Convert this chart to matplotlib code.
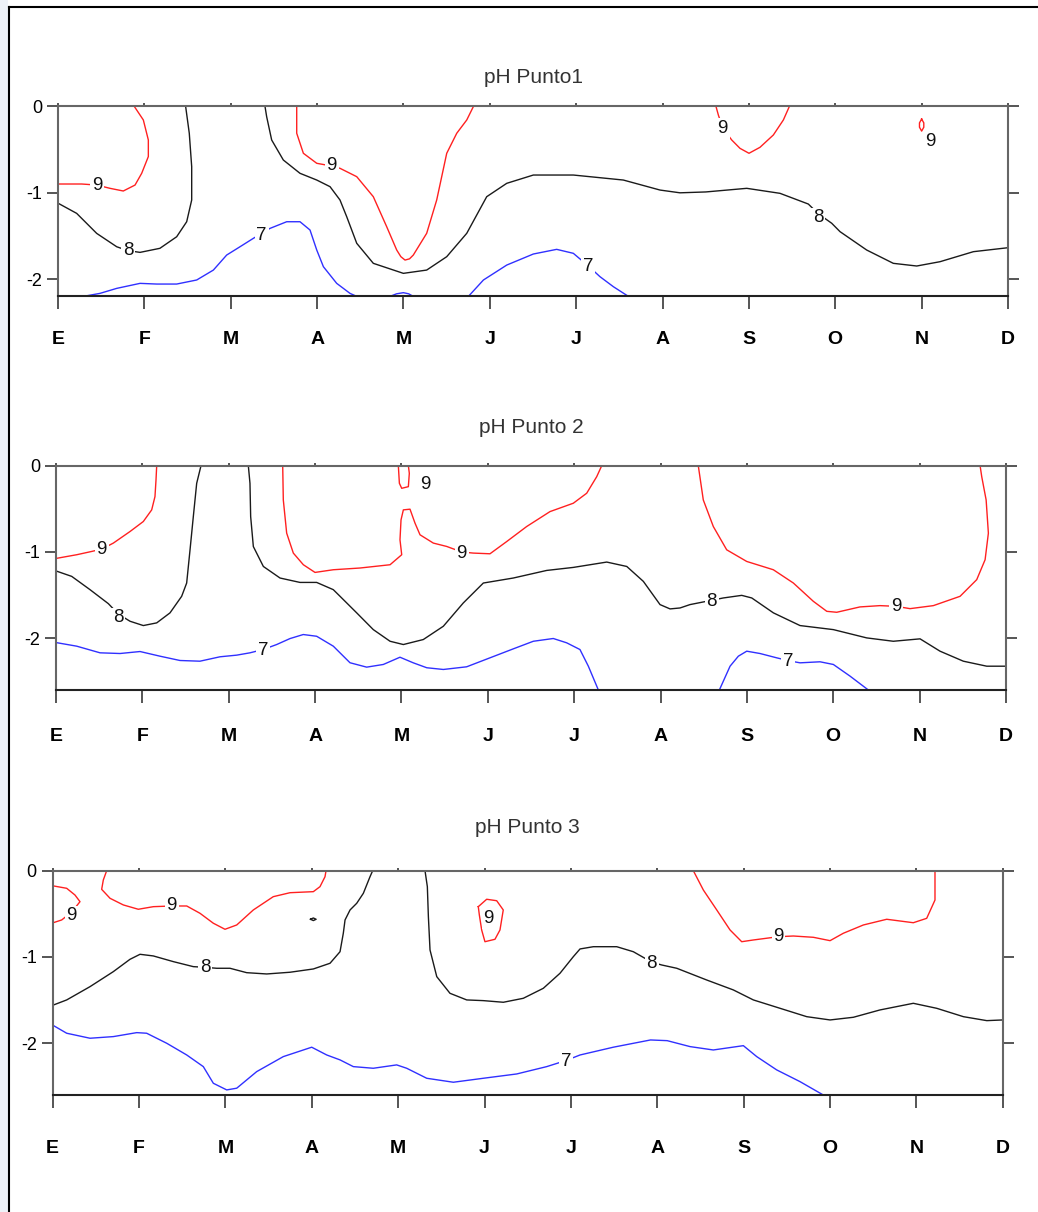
import matplotlib
matplotlib.use("Agg")
import matplotlib.pyplot as plt
from matplotlib.lines import Line2D
from matplotlib.patches import Rectangle

plt.rcParams['font.family'] = ['Liberation Sans', 'DejaVu Sans']

months = ["E", "F", "M", "A", "M", "J", "J", "A", "S", "O", "N", "D"]
titles = ["pH Punto1", "pH Punto 2", "pH Punto 3"]
depth_min = [-2.2, -2.6, -2.6]
depth_ticks = [0, -1, -2]

# isolineas (mes, profundidad)
# ---- Punto 1
p1_red_a = [(0.0, -0.898), (0.274, -0.898), (0.45, -0.91), (0.602, -0.948), (0.756, -0.979),
            (0.892, -0.91), (0.969, -0.774), (1.046, -0.58), (1.046, -0.388), (0.988, -0.156), (0.884, 0.0)]
p1_black_a = [(0.0, -1.12), (0.216, -1.238), (0.448, -1.47), (0.68, -1.625), (0.81, -1.67), (0.95, -1.69),
              (1.18, -1.643), (1.374, -1.509), (1.49, -1.335), (1.548, -1.083), (1.548, -0.697),
              (1.52, -0.31), (1.478, 0.0)]
p1_black_b = [(2.397, 0.0), (2.416, -0.118), (2.474, -0.388), (2.609, -0.62), (2.802, -0.774), (2.996, -0.852),
              (3.15, -0.929), (3.265, -1.083), (3.343, -1.277), (3.459, -1.585), (3.651, -1.817),
              (3.999, -1.933), (4.269, -1.895), (4.501, -1.74), (4.733, -1.469), (4.964, -1.045),
              (5.196, -0.89), (5.504, -0.794), (5.967, -0.794), (6.546, -0.852), (6.971, -0.968),
              (7.202, -1.0), (7.5, -0.99), (7.975, -0.948), (8.36, -1.006), (8.688, -1.13), (8.80, -1.24),
              (8.959, -1.353), (9.055, -1.45), (9.364, -1.663), (9.672, -1.817), (9.943, -1.848),
              (10.213, -1.798), (10.599, -1.682), (11.0, -1.636)]
p1_red_b = [(2.764, 0.0), (2.764, -0.31), (2.841, -0.542), (2.996, -0.658), (3.17, -0.69), (3.265, -0.716),
            (3.459, -0.813), (3.651, -1.045), (3.806, -1.393), (3.922, -1.663), (3.97, -1.74),
            (4.018, -1.779), (4.07, -1.765), (4.114, -1.721), (4.269, -1.469), (4.385, -1.083),
            (4.501, -0.542), (4.617, -0.31), (4.733, -0.156), (4.81, 0.0)]
p1_blue_a = [(0.293, -2.2), (0.486, -2.165), (0.68, -2.107), (0.95, -2.049), (1.143, -2.057), (1.374, -2.057),
             (1.606, -2.01), (1.799, -1.895), (1.953, -1.721), (2.107, -1.625), (2.261, -1.528),
             (2.359, -1.47), (2.455, -1.412), (2.648, -1.335), (2.802, -1.335), (2.918, -1.431),
             (2.996, -1.663), (3.073, -1.856), (3.227, -2.049), (3.381, -2.165), (3.459, -2.2)]
p1_blue_b = [(3.844, -2.2), (3.92, -2.17), (3.999, -2.157), (4.06, -2.17), (4.114, -2.2)]
p1_blue_c = [(4.752, -2.2), (4.926, -2.01), (5.196, -1.837), (5.504, -1.709), (5.774, -1.655), (5.967, -1.701),
             (6.141, -1.848), (6.276, -1.972), (6.431, -2.088), (6.605, -2.2)]
p1_red_c = [(7.619, 0.0), (7.646, -0.098), (7.697, -0.25), (7.801, -0.388), (7.897, -0.485), (8.001, -0.542),
            (8.128, -0.473), (8.283, -0.33), (8.399, -0.156), (8.468, 0.0)]
p1_red_d = [(10.0, -0.145), (10.025, -0.19), (10.025, -0.24), (10.0, -0.285), (9.975, -0.24),
            (9.975, -0.19), (10.0, -0.145)]
p1_labels = [(0.45, -0.91, "9"), (0.81, -1.67, "8"), (2.359, -1.489, "7"), (3.17, -0.68, "9"),
             (6.141, -1.848, "7"), (7.697, -0.253, "9"), (8.80, -1.29, "8"), (10.105, -0.408, "9")]

# ---- Punto 2
p2_red_a = [(0.0, -1.075), (0.24, -1.032), (0.413, -0.994), (0.529, -0.967), (0.664, -0.897), (0.857, -0.763),
            (1.011, -0.647), (1.108, -0.512), (1.146, -0.358), (1.158, -0.165), (1.166, 0.0)]
p2_black_a = [(0.0, -1.22), (0.182, -1.283), (0.394, -1.437), (0.606, -1.599), (0.722, -1.72), (0.857, -1.803),
              (1.011, -1.853), (1.166, -1.822), (1.32, -1.706), (1.455, -1.514), (1.513, -1.36),
              (1.552, -0.975), (1.59, -0.59), (1.629, -0.204), (1.679, 0.0)]
p2_black_b = [(2.227, 0.0), (2.246, -0.204), (2.254, -0.59), (2.285, -0.937), (2.401, -1.168), (2.594, -1.302),
              (2.825, -1.353), (3.018, -1.353), (3.211, -1.437), (3.289, -1.514), (3.482, -1.706),
              (3.674, -1.9), (3.868, -2.035), (4.022, -2.073), (4.253, -2.015), (4.485, -1.861),
              (4.716, -1.591), (4.948, -1.36), (5.295, -1.302), (5.682, -1.214), (5.99, -1.179),
              (6.377, -1.117), (6.609, -1.168), (6.801, -1.341), (6.994, -1.61), (7.11, -1.66),
              (7.226, -1.649), (7.341, -1.61), (7.593, -1.56), (7.727, -1.533), (7.94, -1.503),
              (8.056, -1.533), (8.307, -1.706), (8.615, -1.853), (9.001, -1.9), (9.387, -1.996),
              (9.695, -2.035), (10.005, -2.007), (10.236, -2.15), (10.506, -2.266), (10.777, -2.324),
              (11.0, -2.324)]
p2_red_b = [(2.625, 0.0), (2.632, -0.397), (2.671, -0.782), (2.748, -1.013), (2.864, -1.148), (2.999, -1.237),
            (3.211, -1.206), (3.52, -1.186), (3.868, -1.148), (4.003, -1.032), (3.983, -0.859),
            (3.995, -0.628), (4.022, -0.512), (4.099, -0.504), (4.157, -0.666), (4.215, -0.801),
            (4.369, -0.897), (4.524, -0.936), (4.698, -1.0), (4.832, -1.013), (5.025, -1.021),
            (5.219, -0.879), (5.45, -0.705), (5.72, -0.532), (5.99, -0.435), (6.145, -0.319),
            (6.261, -0.127), (6.319, 0.0)]
p2_red_c = [(3.964, 0.0), (3.976, -0.204), (4.003, -0.262), (4.08, -0.243), (4.091, -0.088), (4.08, 0.0)]
p2_red_d = [(7.437, 0.0), (7.495, -0.397), (7.611, -0.705), (7.766, -0.975), (7.998, -1.11), (8.306, -1.206),
            (8.538, -1.36), (8.769, -1.572), (8.925, -1.688), (9.04, -1.699), (9.309, -1.637),
            (9.541, -1.622), (9.727, -1.63), (9.889, -1.657), (10.159, -1.622), (10.468, -1.514),
            (10.661, -1.321), (10.758, -1.09), (10.796, -0.782), (10.77, -0.397), (10.719, -0.127),
            (10.7, 0.0)]
p2_blue_a = [(0.0, -2.05), (0.24, -2.092), (0.51, -2.169), (0.741, -2.177), (0.973, -2.154), (1.204, -2.208),
             (1.436, -2.258), (1.667, -2.266), (1.899, -2.215), (2.092, -2.196), (2.246, -2.169),
             (2.4, -2.13), (2.555, -2.073), (2.709, -2.004), (2.863, -1.957), (3.018, -1.977),
             (3.211, -2.092), (3.404, -2.284), (3.597, -2.335), (3.79, -2.304), (3.983, -2.22),
             (4.137, -2.285), (4.293, -2.342), (4.485, -2.362), (4.755, -2.331), (5.025, -2.227),
             (5.295, -2.123), (5.527, -2.035), (5.758, -2.003), (5.913, -2.053), (6.067, -2.131),
             (6.164, -2.324), (6.28, -2.6)]
p2_blue_b = [(7.681, -2.6), (7.805, -2.324), (7.901, -2.208), (7.998, -2.15), (8.152, -2.177), (8.345, -2.227),
             (8.48, -2.26), (8.615, -2.285), (8.847, -2.273), (9.001, -2.304), (9.194, -2.439), (9.406, -2.6)]
p2_labels = [(0.529, -0.967, "9"), (0.722, -1.764, "8"), (4.273, -0.223, "9"), (4.698, -1.013, "9"),
             (2.4, -2.142, "7"), (7.593, -1.572, "8"), (9.727, -1.63, "9"), (8.48, -2.266, "7")]

# ---- Punto 3
p3_red_a = [(0.0, -0.175), (0.162, -0.204), (0.258, -0.282), (0.316, -0.359), (0.22, -0.48),
            (0.104, -0.571), (0.0, -0.605)]
p3_red_b = [(0.625, 0.0), (0.586, -0.108), (0.567, -0.216), (0.664, -0.32), (0.818, -0.397), (0.991, -0.447),
            (1.165, -0.417), (1.378, -0.409), (1.552, -0.409), (1.706, -0.494), (1.86, -0.609),
            (1.995, -0.679), (2.131, -0.629), (2.323, -0.455), (2.554, -0.301), (2.748, -0.255),
            (3.018, -0.243), (3.095, -0.185), (3.153, -0.07), (3.165, 0.0)]
p3_black_c = [(2.985, -0.563), (3.018, -0.548), (3.05, -0.563), (3.018, -0.578), (2.985, -0.563)]
p3_black_a = [(0.0, -1.56), (0.162, -1.498), (0.432, -1.344), (0.702, -1.17), (0.895, -1.027), (1.011, -0.969),
              (1.165, -0.988), (1.397, -1.054), (1.628, -1.112), (1.764, -1.12), (1.899, -1.131),
              (2.053, -1.131), (2.246, -1.182), (2.478, -1.197), (2.748, -1.177), (3.018, -1.139),
              (3.211, -1.073), (3.327, -0.939), (3.365, -0.725), (3.385, -0.571), (3.443, -0.455),
              (3.52, -0.378), (3.597, -0.262), (3.674, -0.07), (3.705, 0.0)]
p3_black_b = [(4.311, 0.0), (4.338, -0.185), (4.35, -0.533), (4.369, -0.919), (4.447, -1.228), (4.6, -1.421),
              (4.794, -1.498), (4.986, -1.506), (5.218, -1.525), (5.449, -1.479), (5.681, -1.363),
              (5.874, -1.189), (6.028, -0.997), (6.106, -0.907), (6.26, -0.881), (6.531, -0.881),
              (6.723, -0.939), (6.936, -1.06), (7.052, -1.093), (7.226, -1.131), (7.573, -1.267),
              (7.881, -1.382), (8.113, -1.498), (8.422, -1.595), (8.731, -1.692), (9.001, -1.73),
              (9.271, -1.699), (9.579, -1.614), (9.965, -1.537), (10.236, -1.595), (10.545, -1.692),
              (10.816, -1.738), (11.0, -1.73)]
p3_red_c = [(4.928, -0.417), (5.025, -0.331), (5.141, -0.348), (5.217, -0.455), (5.179, -0.687),
            (5.121, -0.795), (5.005, -0.823), (4.967, -0.687), (4.94, -0.513), (4.928, -0.417)]
p3_red_d = [(7.418, 0.0), (7.534, -0.224), (7.689, -0.455), (7.843, -0.687), (7.978, -0.823), (8.113, -0.803),
            (8.403, -0.765), (8.576, -0.757), (8.808, -0.772), (9.001, -0.811), (9.155, -0.725),
            (9.387, -0.629), (9.657, -0.563), (9.965, -0.603), (10.12, -0.552), (10.216, -0.34),
            (10.216, -0.108), (10.216, 0.0)]
p3_blue_a = [(0.0, -1.79), (0.162, -1.884), (0.432, -1.942), (0.702, -1.923), (0.973, -1.877), (1.088, -1.884),
             (1.32, -2.0), (1.552, -2.136), (1.744, -2.271), (1.86, -2.464), (2.015, -2.541),
             (2.131, -2.521), (2.362, -2.329), (2.67, -2.155), (2.999, -2.046), (3.173, -2.136),
             (3.327, -2.193), (3.481, -2.271), (3.712, -2.29), (3.983, -2.251), (4.099, -2.29),
             (4.331, -2.406), (4.639, -2.452), (4.986, -2.406), (5.373, -2.356), (5.72, -2.271),
             (5.944, -2.2), (6.106, -2.136), (6.491, -2.046), (6.922, -1.962), (7.115, -1.97),
             (7.38, -2.039), (7.649, -2.078), (7.997, -2.028), (8.152, -2.155), (8.383, -2.309),
             (8.653, -2.445), (8.923, -2.6)]
p3_labels = [(0.22, -0.525, "9"), (1.378, -0.409, "9"), (1.764, -1.12, "8"), (5.049, -0.552, "9"),
             (6.936, -1.081, "8"), (8.403, -0.765, "9"), (5.944, -2.213, "7")]

RED, BLACK, BLUE = "#ff2020", "#1a1a1a", "#3030ff"

panels = [
    ([(p1_red_a, RED), (p1_red_b, RED), (p1_red_c, RED), (p1_red_d, RED),
      (p1_black_a, BLACK), (p1_black_b, BLACK),
      (p1_blue_a, BLUE), (p1_blue_b, BLUE), (p1_blue_c, BLUE)], p1_labels),
    ([(p2_red_a, RED), (p2_red_b, RED), (p2_red_c, RED), (p2_red_d, RED),
      (p2_black_a, BLACK), (p2_black_b, BLACK),
      (p2_blue_a, BLUE), (p2_blue_b, BLUE)], p2_labels),
    ([(p3_red_a, RED), (p3_red_b, RED), (p3_red_c, RED), (p3_red_d, RED),
      (p3_black_a, BLACK), (p3_black_b, BLACK), (p3_black_c, BLACK),
      (p3_blue_a, BLUE)], p3_labels),
]

# posiciones de los ejes (fraccion de figura)
rects = [[0.05588, 0.75545, 0.91522, 0.15668],
         [0.05395, 0.43069, 0.91522, 0.18507],
         [0.05077, 0.09653, 0.91522, 0.18507]]
title_off = [17, 23.5, 27]
xlab_pad = [16, 18.5, 23.5]

fig = plt.figure(figsize=(10.38, 12.12), dpi=100)

for i, (lines, labels) in enumerate(panels):
    ax = fig.add_axes(rects[i])
    for pts, col in lines:
        xs, ys = zip(*pts)
        ax.plot(xs, ys, color=col, lw=1.0, zorder=2, solid_joinstyle="round")
    for x, y, s in labels:
        ax.text(x, y, s, ha="center", va="center", fontsize=13.5, color="#111111", zorder=3,
                bbox=dict(fc="white", ec="none", pad=1.2))
    ax.set_xlim(0, 11)
    ax.set_ylim(depth_min[i], 0)
    ax.set_xticks(range(12))
    ax.set_xticklabels(months, fontsize=14, fontweight="bold")
    ax.set_yticks(depth_ticks)
    ax.set_yticklabels([str(t) for t in depth_ticks], fontsize=13)
    ax.tick_params(axis="x", bottom=True, top=True, direction="out", length=9, width=1.4,
                   color="#555555", pad=xlab_pad[i])
    ax.tick_params(axis="y", left=True, right=True, direction="out", length=8, width=1.4,
                   color="#555555", pad=3.5)
    for t in ax.xaxis.get_major_ticks():
        t.tick2line.set_markersize(2)
    for name in ["top", "left", "right"]:
        ax.spines[name].set_color("#666666")
        ax.spines[name].set_linewidth(1.5)
    ax.spines["bottom"].set_color("#222222")
    ax.spines["bottom"].set_linewidth(1.5)
    ax.annotate(titles[i], xy=(0.5, 1.0), xycoords="axes fraction",
                xytext=(0, title_off[i]), textcoords="offset points",
                ha="center", va="baseline", fontsize=15, color="#333333")

# marco de la figura
fig.add_artist(Rectangle((0, 0), 0.0075, 1, transform=fig.transFigure, fc="#eef2f8", ec="none"))
fig.add_artist(Line2D([0.009, 0.009], [0, 0.994], transform=fig.transFigure, color="black", lw=1.5))
fig.add_artist(Line2D([0.009, 1.0], [0.994, 0.994], transform=fig.transFigure, color="black", lw=1.5))

fig.savefig("out.png", dpi=100)
